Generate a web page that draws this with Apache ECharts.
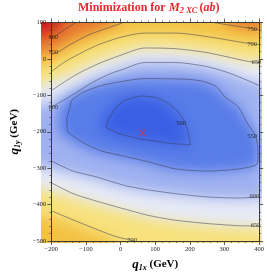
<!DOCTYPE html>
<html><head><meta charset="utf-8">
<script src="https://cdn.jsdelivr.net/npm/echarts@6/dist/echarts.min.js"></script>
<style>
html,body{margin:0;padding:0;background:#fff}
#wrap{position:relative;width:267px;height:277px}
#fill,#c{position:absolute;left:0;top:0;width:267px;height:277px}
#fill{filter:blur(6.5px);clip-path:inset(22.5px 5.5px 34.5px 41.5px)}
</style>
</head><body><div id="wrap"><div id="fill"></div><div id="c"></div></div>
<script>
// axis ranges
const xMin = -200, xMax = 400, yMin = -500, yMax = 100;
const xStep = 100, yStep = 100;

// contour lines, [q1x, q1y] in GeV
const c800  = [[-200,55],[-175,72],[-150,88],[-128,100]];
const c750a = [[-200,12],[-178,20],[-146,39],[-92,66],[-28,88],[3,98],[7,100]];
const c750b = [[268,100],[314,93],[369,85],[400,80]];
const c700a = [[-200,-35],[-164,-10],[-119,14],[-64,39],[3,60],[69,71],[159,71],[251,61],[360,44],[400,39]];
const c700b = [[-200,-417],[-137,-442],[-64,-470],[-13,-488],[41,-500]];
const c650a = [[-200,-87],[-128,-43],[-64,-13],[3,11],[69,30],[159,28],[251,17],[369,-7],[400,-10]];
const c650b = [[-200,-340],[-137,-370],[-64,-392],[3,-410],[82,-430],[159,-443],[250,-452],[341,-458],[400,-459]];
const c600a = [[-200,-133],[-177,-120],[-137,-98],[-82,-65],[-28,-40],[3,-30],[69,-10],[159,-10],[249,-21],[311,-38],[374,-62],[400,-73]];
const c600b = [[-200,-280],[-140,-307],[-70,-324],[14,-348],[82,-360],[159,-370],[250,-379],[341,-382],[400,-379]];
const c550  = [[-141,-113],[-109,-92],[-54,-73],[3,-62],[69,-54],[194,-56],[240,-62],[276,-76],[303,-106],[339,-131],[366,-177],[390,-212],[397,-259],[393,-289],[341,-302],[250,-308],[159,-302],[82,-283],[14,-268],[-54,-253],[-100,-234],[-137,-212],[-153,-199],[-155,-166],[-148,-139],[-141,-113]];
const c500  = [[28,-109],[60,-102],[101,-106],[137,-122],[170,-150],[189,-182],[197,-212],[202,-236],[156,-233],[101,-226],[47,-218],[-8,-204],[-32,-193],[-41,-188],[-35,-166],[-21,-144],[6,-117],[28,-109]];

// contour labels [q1x, q1y, text]
const contourLabels = [[-194,59,'800'],[-194,17,'750'],[-194,-133,'600'],[380,82,'750'],[380,39,'700'],[392,-10,'650'],[380,-212,'550'],[386,-377,'600'],[390,-458,'650'],[175,-178,'500'],[33,-497,'700']];

// minimum marker
const minPoint = [[63,-203]];

// band colours: >800, 750-800, 700-750, 650-700, 600-650, 550-600, 500-550, <500
const bandColors = ['#c81e24','#e6762f','#f3c244','#f7e27e','#e6eaf6','#9fb1f0','#587ce8','#3a5fe4'];

const rev = a => a.slice().reverse();
const polys = [
  [[xMin,yMin],[xMin,yMax],[xMax,yMax],[xMax,yMin]],
  [...c800,[xMax,yMax],[xMax,yMin],[xMin,yMin]],
  [...c750a,...c750b,[xMax,yMin],[xMin,yMin]],
  [...c700a,[xMax,yMin],...rev(c700b)],
  [...c650a,...rev(c650b)],
  [...c600a,...rev(c600b)],
  c550,
  c500
];
const lines = [c800,c750a,c750b,c700a,c700b,c650a,c650b,c600a,c600b,c550,c500];

// fill layer: points on the frame pushed outward so the soft shading reaches the frame evenly
const pad = 60;
const ext = p => [p[0] <= xMin ? xMin - pad : (p[0] >= xMax ? xMax + pad : p[0]),
                  p[1] <= yMin ? yMin - pad : (p[1] >= yMax ? yMax + pad : p[1])];

const serif = '"Liberation Serif","DejaVu Serif",serif';
const red = '#e8282c';
const gridBox = {left:41.5, top:22.5, width:220, height:220, show:false};

const fillSeries = polys.map((pts, i) => {
  const ep = pts.map(ext);
  return {
    type:'custom', coordinateSystem:'cartesian2d', silent:true, clip:false, animation:false,
    data: pts, encode:{x:0,y:1},
    renderItem: (params, api) => {
      if (params.dataIndex !== 0) return null;
      return {type:'polygon', shape:{points: ep.map(p => api.coord(p))}, style:{fill: bandColors[i]}};
    }
  };
});
const fillChart = echarts.init(document.getElementById('fill'), null, {renderer:'canvas'});
fillChart.setOption({
  animation:false,
  grid:gridBox,
  xAxis:{type:'value', min:xMin, max:xMax, show:false},
  yAxis:{type:'value', min:yMin, max:yMax, show:false},
  series: fillSeries
});

const series = [];
lines.forEach(l => series.push({
  type:'line', data:l, showSymbol:false, symbol:'none', smooth:0.25, silent:true, z:3, animation:false,
  lineStyle:{color:'rgba(60,60,85,0.75)', width:0.7}
}));
series.push({
  type:'scatter', data:contourLabels, symbolSize:0, silent:true, z:4, animation:false,
  label:{show:true, position:'inside', formatter:p => p.data[2], fontSize:6.5, fontFamily:serif, color:'#111'}
});
series.push({
  type:'scatter', data:minPoint, silent:true, z:5, animation:false,
  symbol:'path://M0,1L1,0L5,4L9,0L10,1L6,5L10,9L9,10L5,6L1,10L0,9L4,5Z', symbolSize:7,
  itemStyle:{color:'#e0303c'}
});

const fmt = v => String(v).replace('-', '\u2212');
const common = () => ({
  type:'value',
  axisLine:{show:true, onZero:false, lineStyle:{color:'#3a3a3a', width:1}},
  axisTick:{show:true, length:4, lineStyle:{color:'#3a3a3a', width:0.8}},
  minorTick:{show:true, splitNumber:5, length:2, lineStyle:{color:'#3a3a3a', width:0.6}},
  splitLine:{show:false}, minorSplitLine:{show:false}, z:10
});
const nameRich = {
  q:{fontFamily:serif, fontStyle:'italic', fontWeight:'bold', fontSize:13, color:'#000', lineHeight:15, verticalAlign:'middle'},
  s:{fontFamily:serif, fontStyle:'italic', fontWeight:'bold', fontSize:8, color:'#000', lineHeight:15, verticalAlign:'bottom'},
  g:{fontFamily:serif, fontWeight:'bold', fontSize:11, color:'#000', lineHeight:15, verticalAlign:'middle'}
};
const labelStyle = {fontSize:6.5, fontFamily:serif, color:'#222', formatter:fmt};

const chart = echarts.init(document.getElementById('c'), null, {renderer:'canvas'});
chart.setOption({
  animation:false,
  backgroundColor:'transparent',
  title:{
    text:'{b|Minimization for }{m|M}{s|2 XC}{b|(}{i|ab}{b|)}',
    left:78, top:1, padding:0,
    textStyle:{rich:{
      b:{fontFamily:serif, fontWeight:'bold', fontSize:12, color:red, lineHeight:14, verticalAlign:'middle'},
      m:{fontFamily:serif, fontStyle:'italic', fontSize:12.5, color:red, lineHeight:14, verticalAlign:'middle'},
      s:{fontFamily:serif, fontStyle:'italic', fontSize:8.5, color:red, lineHeight:14, verticalAlign:'bottom', padding:[0,2,0,0]},
      i:{fontFamily:serif, fontStyle:'italic', fontWeight:'bold', fontSize:12, color:red, lineHeight:14, verticalAlign:'middle'}
    }}
  },
  grid:gridBox,
  xAxis:[
    Object.assign(common(), {position:'bottom', min:xMin, max:xMax, interval:xStep,
      axisLabel:Object.assign({margin:5}, labelStyle),
      name:'{q|q}{s|1x}{g| (GeV)}', nameLocation:'middle', nameGap:16, nameTextStyle:{rich:nameRich}}),
    Object.assign(common(), {position:'top', min:xMin, max:xMax, interval:xStep, axisLabel:{show:false}})
  ],
  yAxis:[
    Object.assign(common(), {position:'left', min:yMin, max:yMax, interval:yStep,
      axisLabel:Object.assign({margin:5}, labelStyle),
      name:'{q|q}{s|1y}{g| (GeV)}', nameLocation:'middle', nameGap:26, nameTextStyle:{rich:nameRich}}),
    Object.assign(common(), {position:'right', min:yMin, max:yMax, interval:yStep, axisLabel:{show:false}})
  ],
  series
});
</script></body></html>
